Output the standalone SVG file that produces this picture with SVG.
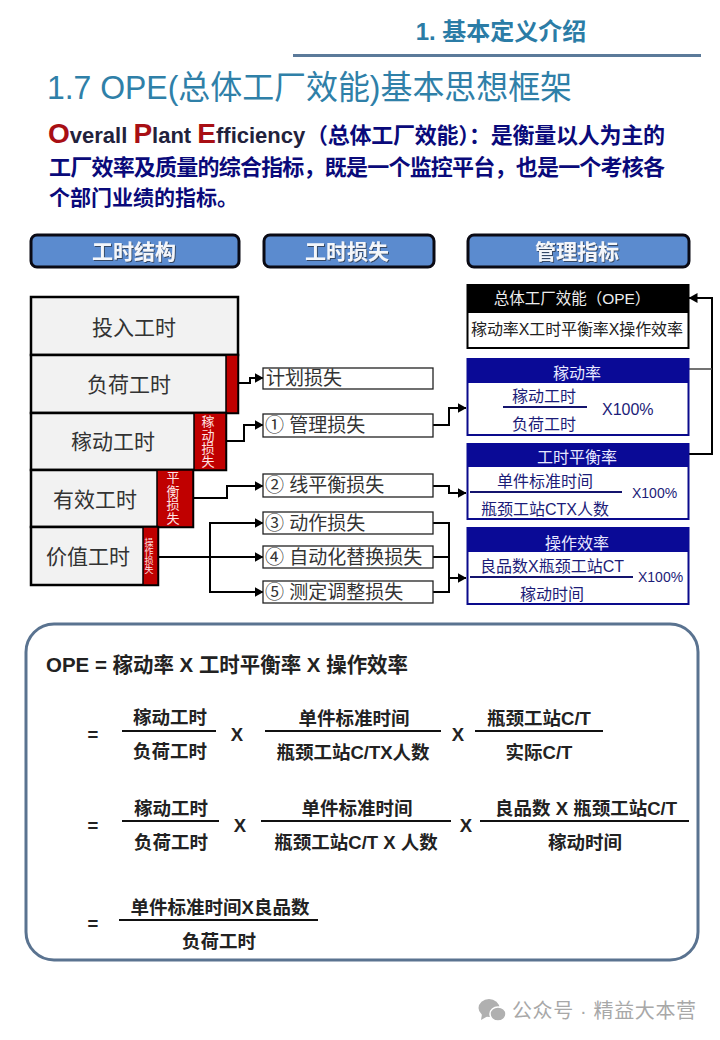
<svg xmlns="http://www.w3.org/2000/svg" width="720" height="1040" viewBox="0 0 720 1040">
<style>
text{font-family:"Liberation Sans","Noto Sans CJK SC",sans-serif;}
.c{text-anchor:middle;dominant-baseline:central;}
.hd{fill:#5b8bcf;stroke:#0a0a14;stroke-width:3;}
.hdt{font-size:21px;font-weight:700;fill:#f4f6fa;filter:url(#sh);}
.blk{fill:#f2f2f2;stroke:#000;stroke-width:2.5;}
.red{fill:#c00000;stroke:#000;stroke-width:1.5;}
.blt{font-size:21px;fill:#333;}
.vt{fill:#ffe4e4;}
.loss{fill:#fff;stroke:#222;stroke-width:1.3;}
.lt{font-size:19px;fill:#333;dominant-baseline:central;}
.con{fill:none;stroke:#000;stroke-width:2;}
.box{fill:#fff;stroke:#0a0a8c;stroke-width:2;}
.navy{fill:#0a0a96;}
.ht{font-size:16px;fill:#e8e8ff;}
.mt{font-size:16px;fill:#1c1c78;}
.fl{stroke:#14146e;stroke-width:2;}
.bt{font-size:18.5px;font-weight:700;fill:#222;}
.bl{stroke:#111;stroke-width:2;}
</style>
<defs>
<marker id="a" markerUnits="userSpaceOnUse" markerWidth="9" markerHeight="10" refX="8.5" refY="5" orient="auto"><path d="M0 0L9 5L0 10Z" fill="#000"/></marker>
<filter id="sh" x="-10%" y="-20%" width="125%" height="150%"><feDropShadow dx="1" dy="1" stdDeviation="0.7" flood-color="#30405a" flood-opacity="0.9"/></filter>
</defs>
<rect width="720" height="1040" fill="#fff"/>

<g id="section-title">
<text class="c" x="501" y="31" style="font-size:24px;font-weight:700;fill:#2b7ca6">1. 基本定义介绍</text>
<rect x="293" y="54" width="408" height="3" fill="#5b7a9a"/>
</g>
<g id="page-title">
<text x="47" y="99" textLength="525" lengthAdjust="spacingAndGlyphs" style="font-size:33px;fill:#2f80a8">1.7 OPE(总体工厂效能)基本思想框架</text>
</g>
<g id="intro">
<text x="48" y="143" style="font-size:22px;font-weight:700;fill:#0a0a7a"><tspan style="font-size:28px;fill:#a80f14">O</tspan><tspan fill="#22223c">verall </tspan><tspan style="font-size:28px;fill:#a80f14">P</tspan><tspan fill="#22223c">lant </tspan><tspan style="font-size:28px;fill:#a80f14">E</tspan><tspan fill="#22223c">fficiency</tspan></text>
<text x="306" y="143" textLength="359" style="font-size:22px;font-weight:700;fill:#0a0a7a">（总体工厂效能）：是衡量以人为主的</text>
<text x="49" y="175" textLength="616" style="font-size:22px;font-weight:700;fill:#0a0a7a">工厂效率及质量的综合指标，既是一个监控平台，也是一个考核各</text>
<text x="49" y="205" style="font-size:21px;font-weight:700;fill:#0a0a7a">个部门业绩的指标。</text>
</g>

<g id="hd1"><rect class="hd" x="31" y="235" width="208" height="32" rx="6"/><text class="c hdt" x="134" y="251">工时结构</text></g>
<g id="hd2"><rect class="hd" x="264" y="235" width="170" height="32" rx="6"/><text class="c hdt" x="347" y="251">工时损失</text></g>
<g id="hd3"><rect class="hd" x="468" y="235" width="221" height="32" rx="6"/><text class="c hdt" x="577" y="251">管理指标</text></g>

<g id="connectors">
<path class="con" d="M238 383H250V378H263" marker-end="url(#a)"/>
<path class="con" d="M226 441H244V425H263" marker-end="url(#a)"/>
<path class="con" d="M193 498H227V486H263" marker-end="url(#a)"/>
<path class="con" d="M158 557H263" marker-end="url(#a)"/>
<path class="con" d="M263 523H210V592H263" marker-end="url(#a)"/>
<path class="con" d="M210 523H263" marker-end="url(#a)"/>
<path class="con" d="M433 425H449V408H466" marker-end="url(#a)"/>
<path class="con" d="M433 486H449V493H466" marker-end="url(#a)"/>
<path class="con" d="M433 523H449V592H433M433 557H449"/>
<path class="con" d="M449 578H466" marker-end="url(#a)"/>
<path class="con" d="M688 454H712V298H689" marker-end="url(#a)"/>
<path d="M688 369H712" fill="none" stroke="#444" stroke-width="1.5"/>
</g>

<g id="b1"><rect class="blk" x="31" y="297" width="207" height="58"/><text class="c blt" x="134" y="327">投入工时</text></g>
<g id="b2"><rect class="blk" x="31" y="355" width="207" height="58"/><rect class="red" x="226" y="355" width="12" height="58"/><text class="c blt" x="129" y="384">负荷工时</text></g>
<g id="b3"><rect class="blk" x="31" y="413" width="195" height="57"/><rect class="red" x="194" y="413" width="32" height="57"/><text class="c blt" x="113" y="441">稼动工时</text>
<text class="c vt" font-size="13"><tspan x="208" y="421">稼</tspan><tspan x="208" y="434.500">动</tspan><tspan x="208" y="448">损</tspan><tspan x="208" y="461">失</tspan></text></g>
<g id="b4"><rect class="blk" x="31" y="470" width="162" height="57"/><rect class="red" x="157" y="470" width="36" height="57"/><text class="c blt" x="95" y="499">有效工时</text>
<text class="c vt" font-size="13"><tspan x="173" y="477">平</tspan><tspan x="173" y="490.500">衡</tspan><tspan x="173" y="504">损</tspan><tspan x="173" y="517.500">失</tspan></text></g>
<g id="b5"><rect class="blk" x="31" y="527" width="127" height="58"/><rect class="red" x="143" y="527" width="15" height="58"/><text class="c blt" x="88" y="556">价值工时</text>
<text class="c vt" font-size="9"><tspan x="149" y="543">操</tspan><tspan x="149" y="552">作</tspan><tspan x="149" y="561">损</tspan><tspan x="149" y="570">失</tspan></text></g>

<g id="l0"><rect class="loss" x="263" y="368" width="170" height="21"/><text class="lt" x="266" y="378">计划损失</text></g>
<g id="l1"><rect class="loss" x="263" y="414" width="170" height="23"/><text class="lt" x="265" y="425">① 管理损失</text></g>
<g id="l2"><rect class="loss" x="263" y="474" width="170" height="23"/><text class="lt" x="265" y="485">② 线平衡损失</text></g>
<g id="l3"><rect class="loss" x="263" y="512" width="170" height="22"/><text class="lt" x="265" y="523">③ 动作损失</text></g>
<g id="l4"><rect class="loss" x="263" y="546" width="170" height="22"/><text class="lt" x="265" y="557">④ 自动化替换损失</text></g>
<g id="l5"><rect class="loss" x="263" y="581" width="170" height="22"/><text class="lt" x="265" y="592">⑤ 测定调整损失</text></g>

<g id="m0"><rect x="467.500" y="285" width="221" height="63" fill="#fff" stroke="#000" stroke-width="2"/><rect x="467" y="284" width="222" height="29" fill="#000"/>
<text class="c" x="572" y="298" style="font-size:15.500px;fill:#eee">总体工厂效能（OPE）</text>
<text class="c" x="577" y="329" textLength="212" style="font-size:16px;fill:#222">稼动率X工时平衡率X操作效率</text></g>

<g id="m1"><rect class="box" x="467.500" y="359" width="221" height="76"/><rect class="navy" x="467" y="358" width="222" height="25"/>
<text class="c ht" x="577" y="373">稼动率</text>
<text class="c mt" x="544" y="396">稼动工时</text><line class="fl" x1="503" y1="407" x2="587" y2="407"/><text class="c mt" x="544" y="424">负荷工时</text>
<text class="c mt" x="602" y="409" style="text-anchor:start">X100%</text></g>

<g id="m2"><rect class="box" x="467.500" y="444" width="221" height="75"/><rect class="navy" x="467" y="443" width="222" height="24"/>
<text class="c ht" x="577" y="457">工时平衡率</text>
<text class="c mt" x="545" y="481">单件标准时间</text><line class="fl" x1="470" y1="492" x2="622" y2="492"/><text class="c mt" x="545" y="509">瓶颈工站CTX人数</text>
<text class="c mt" x="632" y="493" style="text-anchor:start;font-size:14px">X100%</text></g>

<g id="m3"><rect class="box" x="467.500" y="528" width="221" height="76"/><rect class="navy" x="467" y="527" width="222" height="25"/>
<text class="c ht" x="577" y="543">操作效率</text>
<text class="c mt" x="552" y="566">良品数X瓶颈工站CT</text><line class="fl" x1="470" y1="577" x2="633" y2="577"/><text class="c mt" x="552" y="594">稼动时间</text>
<text class="c mt" x="638" y="577" style="text-anchor:start;font-size:14px">X100%</text></g>

<g id="formula-panel">
<rect x="26" y="624" width="672" height="336" rx="28" fill="#fff" stroke="#5a7390" stroke-width="3"/>
<text x="46" y="664" textLength="362" lengthAdjust="spacingAndGlyphs" style="dominant-baseline:central;font-size:21px;font-weight:700;fill:#222">OPE = 稼动率 X 工时平衡率 X 操作效率</text>

<text class="c bt" x="93" y="734">=</text>
<text class="c bt" x="170" y="717">稼动工时</text><line class="bl" x1="122" y1="731" x2="216" y2="731"/><text class="c bt" x="170" y="751">负荷工时</text>
<text class="c bt" x="237" y="734">X</text>
<text class="c bt" x="354" y="718">单件标准时间</text><line class="bl" x1="265" y1="731" x2="441" y2="731"/><text class="c bt" x="353" y="752">瓶颈工站C/TX人数</text>
<text class="c bt" x="458" y="734">X</text>
<text class="c bt" x="539" y="718">瓶颈工站C/T</text><line class="bl" x1="475" y1="731" x2="603" y2="731"/><text class="c bt" x="539" y="752">实际C/T</text>

<text class="c bt" x="93" y="825">=</text>
<text class="c bt" x="171" y="808">稼动工时</text><line class="bl" x1="122" y1="821" x2="219" y2="821"/><text class="c bt" x="171" y="842">负荷工时</text>
<text class="c bt" x="240" y="825">X</text>
<text class="c bt" x="357" y="808">单件标准时间</text><line class="bl" x1="261" y1="821" x2="451" y2="821"/><text class="c bt" x="356" y="842">瓶颈工站C/T X 人数</text>
<text class="c bt" x="466" y="825">X</text>
<text class="c bt" x="586" y="808">良品数 X 瓶颈工站C/T</text><line class="bl" x1="480" y1="821" x2="689" y2="821"/><text class="c bt" x="585" y="842">稼动时间</text>

<text class="c bt" x="93" y="923">=</text>
<text class="c bt" x="220" y="907">单件标准时间X良品数</text><line class="bl" x1="119" y1="920" x2="318" y2="920"/><text class="c bt" x="219" y="941">负荷工时</text>
</g>

<g id="watermark">
<ellipse cx="489" cy="1008" rx="10.500" ry="9" fill="#b0b0b0"/><path d="M482 1014L481 1020L488 1016Z" fill="#b0b0b0"/>
<ellipse cx="498" cy="1014" rx="8" ry="7" fill="#b0b0b0" stroke="#fff" stroke-width="1.500"/>
<text x="512" y="1018" textLength="184" style="font-size:20px;fill:#a8a8a8">公众号 · 精益大本营</text>
</g>
</svg>
